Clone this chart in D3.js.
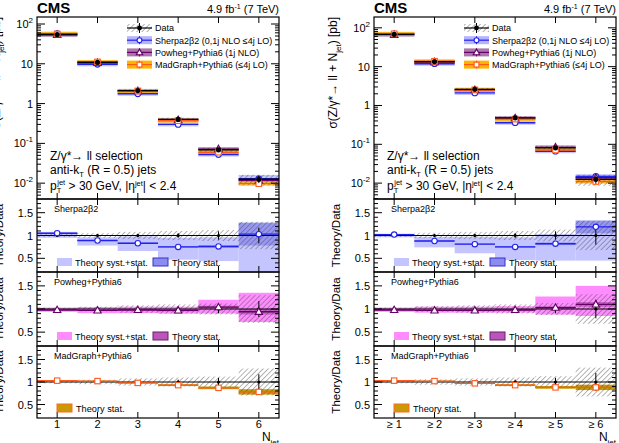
<!doctype html>
<html lang="en">
<head>
<meta charset="utf-8">
<title>Z + jets multiplicity</title>
<script src="https://cdn.jsdelivr.net/npm/d3@7/dist/d3.min.js"></script>
<style>
  body { margin: 0; background: #fff; }
  svg { display: block; font-family: "Liberation Sans", Arial, sans-serif; }
  .frame { fill: none; stroke: #000; stroke-width: 1.2px; }
  .lab { font-size: 11px; fill: #000; }
</style>
</head>
<body>
<svg width="619" height="443"></svg>
<script>

// bin labels
var binsExcl = ["1", "2", "3", "4", "5", "6"];
var binsIncl = ["\u2265 1", "\u2265 2", "\u2265 3", "\u2265 4", "\u2265 5", "\u2265 6"];

// measured cross sections [pb]
var dataExcl = [54.5, 10.9, 2.12, 0.40, 0.069, 0.0125];
var dataIncl = [68, 13.5, 2.6, 0.48, 0.081, 0.0125];
// relative uncertainties of the data
var dataSystExcl = [0.03, 0.05, 0.08, 0.10, 0.12, 0.30];
var dataSystIncl = [0.03, 0.06, 0.08, 0.10, 0.13, 0.32];
var dataStatExcl = [0.004, 0.008, 0.015, 0.03, 0.07, 0.15];
var dataStatIncl = [0.004, 0.008, 0.015, 0.03, 0.07, 0.18];

// theory / data ratios
var sherpaExcl = [1.05, 0.89, 0.83, 0.75, 0.76, 1.03];
var sherpaLoExcl = [0.95, 0.78, 0.66, 0.47, 0.44, 0.22];
var sherpaHiExcl = [1.08, 0.96, 0.98, 0.95, 0.96, 1.28];
var sherpaStatExcl = [0.01, 0.01, 0.015, 0.02, 0.03, 0.25];
var sherpaIncl = [1.02, 0.88, 0.81, 0.75, 0.82, 1.19];
var sherpaLoIncl = [0.96, 0.74, 0.61, 0.46, 0.45, 0.45];
var sherpaHiIncl = [1.04, 0.97, 0.97, 0.96, 1.03, 1.32];
var sherpaStatIncl = [0.01, 0.01, 0.015, 0.02, 0.03, 0.14];

var powhegExcl = [0.98, 0.97, 0.98, 0.97, 1.04, 0.94];
var powhegLoExcl = [0.94, 0.91, 0.91, 0.90, 0.90, 0.72];
var powhegHiExcl = [1.03, 1.04, 1.05, 1.05, 1.20, 1.35];
var powhegStatExcl = [0.01, 0.01, 0.015, 0.02, 0.03, 0.06];
var powhegIncl = [0.98, 0.97, 0.97, 0.98, 1.03, 1.10];
var powhegLoIncl = [0.94, 0.92, 0.92, 0.92, 0.88, 0.85];
var powhegHiIncl = [1.03, 1.05, 1.05, 1.06, 1.27, 1.50];
var powhegStatIncl = [0.01, 0.01, 0.015, 0.02, 0.03, 0.05];

var madgraphExcl = [1.03, 1.02, 0.98, 0.93, 0.87, 0.78];
var madgraphStatExcl = [0.01, 0.01, 0.015, 0.02, 0.03, 0.06];
var madgraphIncl = [1.03, 1.02, 0.97, 0.93, 0.88, 0.88];
var madgraphStatIncl = [0.01, 0.01, 0.01, 0.02, 0.03, 0.06];

var svg = d3.select("svg");

var defs = svg.append("defs");
var pat = defs.append("pattern").attr("id", "hatch")
    .attr("patternUnits", "userSpaceOnUse")
    .attr("width", 3.6).attr("height", 3.6)
    .attr("patternTransform", "rotate(45)");
pat.append("line").attr("x1", 0).attr("y1", 0).attr("x2", 0).attr("y2", 3.6)
    .attr("stroke", "#444").attr("stroke-width", 0.8);

var models = {
  sherpa:   { line: "#2222ee", band: "#c4c4ff", stat: "#8c8cf0", statEdge: "#3333cc", legendBand: "#b4b4ff" },
  powheg:   { line: "#660066", band: "#ff8cff", stat: "#bb55bb", statEdge: "#662266", legendBand: "#a977a9" },
  madgraph: { line: "#ff5a1e", band: "#ffb400", stat: "#c99a06", statEdge: "#ff6a20", legendBand: "#ffb400" }
};

var columns = [
  { x0: 37, x1: 279, labels: binsExcl, data: dataExcl, syst: dataSystExcl, stat: dataStatExcl,
    yDom: [0.004, 150],
    sherpa: sherpaExcl, sherpaLo: sherpaLoExcl, sherpaHi: sherpaHiExcl, sherpaStat: sherpaStatExcl,
    powheg: powhegExcl, powhegLo: powhegLoExcl, powhegHi: powhegHiExcl, powhegStat: powhegStatExcl,
    madgraph: madgraphExcl, madgraphStat: madgraphStatExcl },
  { x0: 374, x1: 616, labels: binsIncl, data: dataIncl, syst: dataSystIncl, stat: dataStatIncl,
    yDom: [0.0039, 190],
    sherpa: sherpaIncl, sherpaLo: sherpaLoIncl, sherpaHi: sherpaHiIncl, sherpaStat: sherpaStatIncl,
    powheg: powhegIncl, powhegLo: powhegLoIncl, powhegHi: powhegHiIncl, powhegStat: powhegStatIncl,
    madgraph: madgraphIncl, madgraphStat: madgraphStatIncl }
];

var mainTop = 17, mainBot = 199;
var ratioPanels = [
  { top: 199, bot: 272, name: "Sherpa2\u03b22", key: "sherpa" },
  { top: 272, bot: 346, name: "Powheg+Pythia6", key: "powheg" },
  { top: 346, bot: 418, name: "MadGraph+Pythia6", key: "madgraph" }
];

function xTicks(g, x, top, bot) {
  d3.range(1, 7).forEach(function(i) {
    g.append("line").attr("x1", x(i)).attr("x2", x(i)).attr("y1", bot).attr("y2", bot - 6).attr("stroke", "#000");
    g.append("line").attr("x1", x(i)).attr("x2", x(i)).attr("y1", top).attr("y2", top + 6).attr("stroke", "#000");
  });
}

function yTicksBoth(g, x0, x1, y, major, minor) {
  minor.forEach(function(v) {
    g.append("line").attr("x1", x0).attr("x2", x0 + 4).attr("y1", y(v)).attr("y2", y(v)).attr("stroke", "#000");
    g.append("line").attr("x1", x1).attr("x2", x1 - 4).attr("y1", y(v)).attr("y2", y(v)).attr("stroke", "#000");
  });
  major.forEach(function(v) {
    g.append("line").attr("x1", x0).attr("x2", x0 + 8).attr("y1", y(v)).attr("y2", y(v)).attr("stroke", "#000");
    g.append("line").attr("x1", x1).attr("x2", x1 - 8).attr("y1", y(v)).attr("y2", y(v)).attr("stroke", "#000");
  });
}

function marker(g, key, cx, cy, r) {
  var c = models[key].line;
  if (key === "sherpa") {
    g.append("circle").attr("cx", cx).attr("cy", cy).attr("r", r).attr("fill", "#fff").attr("stroke", c).attr("stroke-width", 1.1);
  } else if (key === "powheg") {
    g.append("path").attr("d", d3.symbol().type(d3.symbolTriangle).size(r * r * 3.2)())
      .attr("transform", "translate(" + cx + "," + (cy + 0.5) + ")")
      .attr("fill", "#fff").attr("stroke", c).attr("stroke-width", 1.1);
  } else {
    g.append("rect").attr("x", cx - r).attr("y", cy - r).attr("width", 2 * r).attr("height", 2 * r)
      .attr("fill", "#fff").attr("stroke", c).attr("stroke-width", 1.1);
  }
}

columns.forEach(function(col) {
  var g = svg.append("g");
  var x = d3.scaleLinear().domain([0.5, 6.5]).range([col.x0, col.x1]);
  var bw = x(1) - x(0);
  var y = d3.scaleLog().domain(col.yDom).range([mainBot, mainTop]);
  var idx = d3.range(6);

  // ---- main panel ----
  var clip = "clip" + col.x0;
  defs.append("clipPath").attr("id", clip).append("rect")
    .attr("x", col.x0).attr("y", mainTop).attr("width", col.x1 - col.x0).attr("height", mainBot - mainTop);
  var m = g.append("g").attr("clip-path", "url(#" + clip + ")");

  // theory stat bands
  ["sherpa", "powheg", "madgraph"].forEach(function(k) {
    idx.forEach(function(i) {
      var v = col[k][i] * col.data[i], s = col[k + "Stat"][i];
      var y1 = y(v * (1 + s)), y2 = y(v * (1 - s));
      var h = Math.max(4, y2 - y1), yc = (y1 + y2) / 2;
      m.append("rect").attr("x", x(i + 0.5)).attr("width", bw).attr("y", yc - h / 2).attr("height", h)
        .attr("fill", models[k].legendBand).attr("opacity", 0.8);
    });
  });
  idx.forEach(function(i) {
    var v = col.data[i], s = col.syst[i];
    m.append("rect").attr("x", x(i + 0.5)).attr("width", bw).attr("y", y(v * (1 + s))).attr("height", y(v * (1 - s)) - y(v * (1 + s)))
      .attr("fill", "url(#hatch)");
  });
  ["sherpa", "powheg", "madgraph"].forEach(function(k) {
    idx.forEach(function(i) {
      var v = col[k][i] * col.data[i];
      m.append("line").attr("x1", x(i + 0.5)).attr("x2", x(i + 1.5)).attr("y1", y(v)).attr("y2", y(v))
        .attr("stroke", models[k].line).attr("stroke-width", 1.4);
    });
  });
  idx.forEach(function(i) {
    var v = col.data[i];
    m.append("line").attr("x1", x(i + 0.5)).attr("x2", x(i + 1.5)).attr("y1", y(v)).attr("y2", y(v))
      .attr("stroke", "#000").attr("stroke-width", 1.4);
  });
  ["sherpa", "powheg", "madgraph"].forEach(function(k) {
    idx.forEach(function(i) { marker(m, k, x(i + 1), y(col[k][i] * col.data[i]), 2.8); });
  });
  idx.forEach(function(i) {
    var v = col.data[i], s = col.stat[i];
    m.append("line").attr("x1", x(i + 1)).attr("x2", x(i + 1)).attr("y1", y(v * (1 + s)) - 1).attr("y2", y(v * (1 - s)) + 1).attr("stroke", "#000");
    m.append("circle").attr("cx", x(i + 1)).attr("cy", y(v)).attr("r", 2.6).attr("fill", "#000");
  });

  // main axes
  var majors = [0.01, 0.1, 1, 10, 100];
  var minors = [];
  [0.001, 0.01, 0.1, 1, 10, 100].forEach(function(d) {
    for (var k = 2; k <= 9; k++) {
      var v = d * k;
      if (v > col.yDom[0] && v < col.yDom[1]) minors.push(v);
    }
  });
  yTicksBoth(g, col.x0, col.x1, y, majors, minors);
  xTicks(g, x, mainTop, mainBot);
  g.append("rect").attr("class", "frame").attr("x", col.x0).attr("y", mainTop).attr("width", col.x1 - col.x0).attr("height", mainBot - mainTop);

  var expo = { 0.01: "-2", 0.1: "-1", 100: "2" };
  majors.forEach(function(v) {
    var t = g.append("text").attr("class", "lab").attr("text-anchor", "end")
      .attr("x", col.x0 - 4).attr("y", y(v) + 4);
    if (v === 1 || v === 10) { t.text(String(v)); }
    else {
      t.append("tspan").text("10");
      t.append("tspan").attr("dy", -5).attr("font-size", "8px").text(expo[v]);
    }
  });

  // y title of main panel (cut by the page edge on the left column, as in the original)
  var yt = g.append("text").attr("transform", "translate(" + (col.x0 - 37) + "," + mainTop + ") rotate(-90)")
    .attr("text-anchor", "end").attr("font-size", "12px");
  yt.append("tspan").text("\u03c3(Z/\u03b3*\u2192 ll + N");
  yt.append("tspan").attr("dy", 4).attr("font-size", "8px").text("jet");
  yt.append("tspan").attr("dy", -4).text(") [pb]");

  // header
  g.append("text").attr("x", col.x0).attr("y", 13).attr("font-size", "15px").attr("font-weight", "bold").text("CMS");
  var lumi = g.append("text").attr("x", col.x1).attr("y", 13).attr("text-anchor", "end").attr("font-size", "11px");
  lumi.append("tspan").text("4.9 fb");
  lumi.append("tspan").attr("dy", -4).attr("font-size", "7px").text("-1");
  lumi.append("tspan").attr("dy", 4).text(" (7 TeV)");

  // legend
  var lx = col.x0 + 90, ly = 28;
  var legend = [
    { key: "data", label: "Data" },
    { key: "sherpa", label: "Sherpa2\u03b22 (0,1j NLO \u22644j LO)" },
    { key: "powheg", label: "Powheg+Pythia6 (1j NLO)" },
    { key: "madgraph", label: "MadGraph+Pythia6 (\u22644j LO)" }
  ];
  legend.forEach(function(d, i) {
    var cy = ly + i * 12.2;
    var cx = lx + 12.5;
    if (d.key === "data") {
      g.append("rect").attr("x", lx).attr("y", cy - 4).attr("width", 25).attr("height", 8).attr("fill", "url(#hatch)");
      g.append("line").attr("x1", lx).attr("x2", lx + 25).attr("y1", cy).attr("y2", cy).attr("stroke", "#000").attr("stroke-width", 1.2);
      g.append("line").attr("x1", cx).attr("x2", cx).attr("y1", cy - 5).attr("y2", cy + 5).attr("stroke", "#000");
      g.append("circle").attr("cx", cx).attr("cy", cy).attr("r", 2.4).attr("fill", "#000");
    } else {
      g.append("rect").attr("x", lx).attr("y", cy - 4).attr("width", 25).attr("height", 8).attr("fill", models[d.key].legendBand);
      g.append("line").attr("x1", lx).attr("x2", lx + 25).attr("y1", cy).attr("y2", cy).attr("stroke", models[d.key].line).attr("stroke-width", 1.2);
      g.append("line").attr("x1", cx).attr("x2", cx).attr("y1", cy - 4).attr("y2", cy + 4).attr("stroke", models[d.key].line);
      marker(g, d.key, cx, cy, 2.4);
    }
    g.append("text").attr("x", lx + 28).attr("y", cy + 3.3).attr("font-size", "9px").text(d.label);
  });

  // selection text
  var tx = col.x0 + 13;
  g.append("text").attr("x", tx).attr("y", 160).attr("font-size", "12px").text("Z/\u03b3*\u2192 ll selection");
  var t2 = g.append("text").attr("x", tx).attr("y", 174).attr("font-size", "12px");
  t2.append("tspan").text("anti-k");
  t2.append("tspan").attr("dy", 2.5).attr("font-size", "7.5px").text("T");
  t2.append("tspan").attr("dy", -2.5).text(" (R = 0.5) jets");
  var t3 = g.append("text").attr("x", tx).attr("y", 190).attr("font-size", "12px");
  t3.append("tspan").text("p");
  t3.append("tspan").attr("dy", 3).attr("font-size", "7.5px").text("T");
  t3.append("tspan").attr("dx", -4).attr("dy", -8).attr("font-size", "7.5px").text("jet");
  t3.append("tspan").attr("dy", 5).text(" > 30 GeV, |\u03b7");
  t3.append("tspan").attr("dy", -4.5).attr("font-size", "7.5px").text("jet");
  t3.append("tspan").attr("dy", 4.5).text("| < 2.4");

  // ---- ratio panels ----
  ratioPanels.forEach(function(p) {
    var yr = d3.scaleLinear().domain([0.2, 1.8]).range([p.bot, p.top]);
    var cid = "clip" + col.x0 + p.key;
    defs.append("clipPath").attr("id", cid).append("rect")
      .attr("x", col.x0).attr("y", p.top).attr("width", col.x1 - col.x0).attr("height", p.bot - p.top);
    var r = g.append("g").attr("clip-path", "url(#" + cid + ")");
    var mod = models[p.key];
    var vals = col[p.key], stat = col[p.key + "Stat"];

    if (p.key !== "madgraph") {
      idx.forEach(function(i) {
        var lo = col[p.key + "Lo"][i], hi = col[p.key + "Hi"][i];
        r.append("rect").attr("x", x(i + 0.5)).attr("width", bw).attr("y", yr(hi)).attr("height", yr(lo) - yr(hi)).attr("fill", mod.band);
      });
    }
    idx.forEach(function(i) {
      var v = vals[i], s = stat[i];
      r.append("rect").attr("x", x(i + 0.5)).attr("width", bw).attr("y", yr(v + s)).attr("height", Math.max(1, yr(v - s) - yr(v + s)))
        .attr("fill", mod.stat).attr("opacity", p.key === "madgraph" ? 1 : 0.8);
    });
    idx.forEach(function(i) {
      var s = col.syst[i];
      r.append("rect").attr("x", x(i + 0.5)).attr("width", bw).attr("y", yr(1 + s)).attr("height", yr(1 - s) - yr(1 + s)).attr("fill", "url(#hatch)");
    });
    // data line at 1 with stat bars
    r.append("line").attr("x1", col.x0).attr("x2", col.x1).attr("y1", yr(1)).attr("y2", yr(1)).attr("stroke", "#000").attr("stroke-width", 1.2);
    idx.forEach(function(i) {
      var s = col.stat[i];
      r.append("line").attr("x1", x(i + 1)).attr("x2", x(i + 1)).attr("y1", yr(1 + s) - 1).attr("y2", yr(1 - s) + 1).attr("stroke", "#000");
      r.append("circle").attr("cx", x(i + 1)).attr("cy", yr(1)).attr("r", 1.6).attr("fill", "#000");
    });
    idx.forEach(function(i) {
      var v = vals[i];
      r.append("line").attr("x1", x(i + 0.5)).attr("x2", x(i + 1.5)).attr("y1", yr(v)).attr("y2", yr(v))
        .attr("stroke", mod.line).attr("stroke-width", 1.4);
      marker(r, p.key, x(i + 1), yr(v), 2.7);
    });

    yTicksBoth(g, col.x0, col.x1, yr, [0.5, 1, 1.5], [0.3, 0.4, 0.6, 0.7, 0.8, 0.9, 1.1, 1.2, 1.3, 1.4, 1.6, 1.7]);
    xTicks(g, x, p.top, p.bot);
    g.append("rect").attr("class", "frame").attr("x", col.x0).attr("y", p.top).attr("width", col.x1 - col.x0).attr("height", p.bot - p.top);
    [0.5, 1, 1.5].forEach(function(v) {
      g.append("text").attr("class", "lab").attr("text-anchor", "end").attr("x", col.x0 - 4).attr("y", yr(v) + 4).text(String(v));
    });
    g.append("text").attr("x", col.x0 + 17).attr("y", p.top + 13).attr("font-size", "9px").text(p.name);
    g.append("text").attr("transform", "translate(" + (col.x0 - 34) + "," + ((p.top + p.bot) / 2) + ") rotate(-90)")
      .attr("text-anchor", "middle").attr("font-size", "11.5px").text("Theory/Data");

    // ratio legend
    var by = p.bot - 14;
    if (p.key !== "madgraph") {
      g.append("rect").attr("x", col.x0 + 20).attr("y", by).attr("width", 15).attr("height", 8).attr("fill", mod.band);
      g.append("text").attr("x", col.x0 + 38).attr("y", by + 7.5).attr("font-size", "9.2px").text("Theory syst.+stat.");
      g.append("rect").attr("x", col.x0 + 116).attr("y", by).attr("width", 15).attr("height", 8).attr("fill", mod.stat).attr("stroke", mod.statEdge);
      g.append("text").attr("x", col.x0 + 135).attr("y", by + 7.5).attr("font-size", "9.2px").text("Theory stat.");
    } else {
      g.append("rect").attr("x", col.x0 + 20).attr("y", by).attr("width", 15).attr("height", 8).attr("fill", mod.stat).attr("stroke", mod.statEdge);
      g.append("text").attr("x", col.x0 + 39).attr("y", by + 7.5).attr("font-size", "9.2px").text("Theory stat.");
    }
  });

  // x tick labels and title
  idx.forEach(function(i) {
    g.append("text").attr("class", "lab").attr("text-anchor", "middle").attr("x", x(i + 1)).attr("y", 428).text(col.labels[i]);
  });
  var xt = g.append("text").attr("x", col.x1).attr("y", 441).attr("text-anchor", "end").attr("font-size", "12px");
  xt.append("tspan").text("N");
  xt.append("tspan").attr("dy", 4).attr("font-size", "8px").text("jet");
});

</script>
</body>
</html>
